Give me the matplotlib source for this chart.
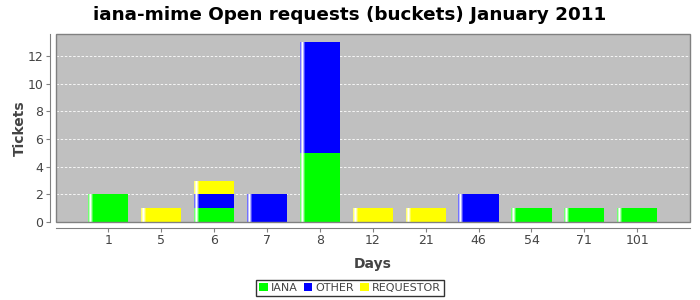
import numpy as np
import matplotlib
matplotlib.use('Agg')
import matplotlib.pyplot as plt
from matplotlib.patches import Rectangle, Patch

days = ['1', '5', '6', '7', '8', '12', '21', '46', '54', '71', '101']
iana = [2, 0, 1, 0, 5, 0, 0, 0, 1, 1, 1]
other = [0, 0, 1, 2, 8, 0, 0, 2, 0, 0, 0]
requestor = [0, 1, 1, 0, 0, 1, 1, 0, 0, 0, 0]

series = [('IANA', iana, '#00FF00'), ('OTHER', other, '#0000FF'), ('REQUESTOR', requestor, '#FFFF00')]

fig = plt.figure(figsize=(7, 3), dpi=100)
ax = fig.add_axes([0.08, 0.26, 0.906, 0.627])
ax.set_facecolor('#C0C0C0')

x = np.arange(len(days))
width = 0.76
bottom = np.zeros(len(days))

# white shine stripe near the left edge of each bar
strip_alpha = [0.45, 0.75, 1.0, 0.7, 0.3]
strip_w = width / 40

for name, vals, col in series:
    vals = np.array(vals, dtype=float)
    ax.bar(x, vals, width, bottom=bottom, color=col, label=name, zorder=2)
    left = x - width / 2
    for k, a in enumerate(strip_alpha):
        ax.bar(left + k * strip_w, vals, strip_w, bottom=bottom, align='edge',
               color='white', alpha=a, linewidth=0, zorder=3)
    bottom += vals

ax.set_xlim(-0.985, len(days) - 0.0)
ax.set_ylim(0, 13.6)
ax.set_yticks(range(0, 13, 2))
ax.set_xticks(x)
ax.set_xticklabels(days)
ax.yaxis.grid(True, color='white', linestyle=(0, (3, 2)), linewidth=0.6, zorder=1)
ax.set_axisbelow(True)

for s in ['top', 'right']:
    ax.spines[s].set_visible(False)
ax.spines['left'].set_position(('outward', 4))
ax.spines['bottom'].set_position(('outward', 4))
ax.spines['left'].set_color('#808080')
ax.spines['bottom'].set_color('#808080')
ax.add_patch(Rectangle((0, 0), 1, 1, transform=ax.transAxes, fill=False,
                       edgecolor='#808080', linewidth=1, clip_on=False, zorder=4))
ax.tick_params(colors='#808080', labelcolor='#444444', labelsize=9, length=3, pad=2)

ax.set_ylabel('Tickets', fontsize=10, fontweight='bold', color='#444444')
ax.yaxis.set_label_coords(-0.046, 0.5)
ax.set_xlabel('Days', fontsize=10, fontweight='bold', color='#444444')
ax.xaxis.set_label_coords(0.5, -0.186)
fig.suptitle('iana-mime Open requests (buckets) January 2011', fontsize=13.2,
             fontweight='bold', y=0.98)

handles = [Patch(facecolor=c, edgecolor='none', label=n) for n, _, c in series]
leg = fig.legend(handles=handles, loc='center', bbox_to_anchor=(0.5, 0.04), ncol=3,
                 fontsize=8, frameon=True, fancybox=False, handlelength=0.8,
                 handleheight=0.8, handletextpad=0.3, columnspacing=0.5,
                 borderpad=0.25, borderaxespad=0)
leg.get_frame().set_edgecolor('black')
leg.get_frame().set_linewidth(1)
for txt in leg.get_texts():
    txt.set_color('#444444')

fig.savefig('out.png', dpi=100)
